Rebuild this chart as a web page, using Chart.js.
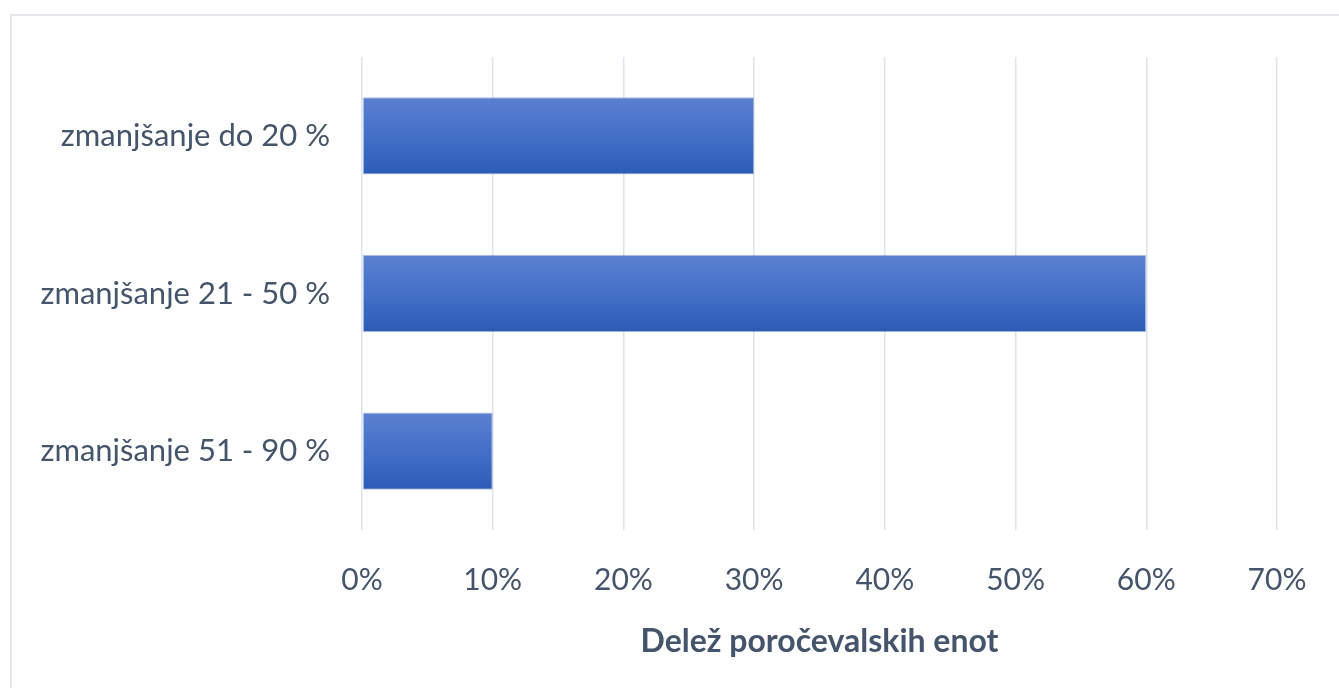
<!DOCTYPE html>
<html lang="sl">
<head>
    <meta charset="UTF-8">
    <title>Delež poročevalskih enot</title>
    <style>
        body {
            margin: 0;
            background: #fff;
            overflow: hidden;
        }

        .frame {
            position: absolute;
            left: 10px;
            top: 14px;
            width: 1400px;
            height: 760px;
            border: 2px solid #e4e7ee;
        }

        .wrap {
            position: absolute;
            left: 0;
            top: 0;
            width: 1339px;
            height: 688px;
        }
    </style>
</head>
<body>
    <div class="frame"></div>
    <div class="wrap">
        <canvas id="chart"></canvas>
    </div>

    <script src="https://cdn.jsdelivr.net/npm/chart.js"></script>
    <script>
        // Data
        const categories = ['zmanjšanje do 20 %', 'zmanjšanje 21 - 50 %', 'zmanjšanje 51 - 90 %'];
        const shares = [30, 60, 10];
        const xTicks = [0, 10, 20, 30, 40, 50, 60, 70];
        const axisTitle = 'Delež poročevalskih enot';

        const textColor = '#44546a';
        const fontFamily = 'Lato, "Open Sans", sans-serif';
        const barPct = 0.49;

        // soft top-to-bottom gradient for each bar, placed from the y scale
        function barFill(c) {
            const chart = c.chart;
            const area = chart.chartArea;
            const yScale = chart.scales.y;
            if (!area || !yScale) return '#4470c8';
            const mid = yScale.getPixelForValue(c.dataIndex);
            const half = (area.bottom - area.top) / categories.length * barPct / 2;
            const g = chart.ctx.createLinearGradient(0, mid - half, 0, mid + half);
            g.addColorStop(0, '#5b80d0');
            g.addColorStop(0.5, '#4470c8');
            g.addColorStop(1, '#2c5bb7');
            return g;
        }

        const ctx = document.getElementById('chart').getContext('2d');
        new Chart(ctx, {
            type: 'bar',
            data: {
                labels: categories,
                datasets: [{
                    data: shares,
                    backgroundColor: barFill,
                    borderColor: 'rgba(40, 80, 170, 0.35)',
                    borderWidth: 1,
                    borderSkipped: false,
                    categoryPercentage: 1,
                    barPercentage: barPct
                }]
            },
            options: {
                indexAxis: 'y',
                responsive: true,
                maintainAspectRatio: false,
                animation: false,
                layout: {
                    padding: { top: 57, right: 62, bottom: 0, left: 0 }
                },
                plugins: {
                    legend: { display: false },
                    tooltip: { enabled: false }
                },
                scales: {
                    x: {
                        min: 0,
                        max: 70,
                        afterBuildTicks(scale) {
                            scale.ticks = xTicks.map(v => ({ value: v }));
                        },
                        afterFit(scale) {
                            scale.height = 158;
                        },
                        grid: {
                            color: '#dce2ee',
                            lineWidth: 1.5,
                            drawTicks: false
                        },
                        border: { display: false },
                        ticks: {
                            padding: 32,
                            color: textColor,
                            font: { family: fontFamily, size: 30 },
                            callback: v => v + '%'
                        },
                        title: {
                            display: true,
                            text: axisTitle,
                            color: textColor,
                            font: { family: fontFamily, size: 32, weight: 'bold' },
                            padding: { top: 0, bottom: 27 }
                        }
                    },
                    y: {
                        afterFit(scale) {
                            scale.width = 362;
                        },
                        grid: { display: false },
                        border: { display: false },
                        ticks: {
                            padding: 24,
                            color: textColor,
                            font: { family: fontFamily, size: 31 }
                        }
                    }
                }
            }
        });
    </script>
</body>
</html>
